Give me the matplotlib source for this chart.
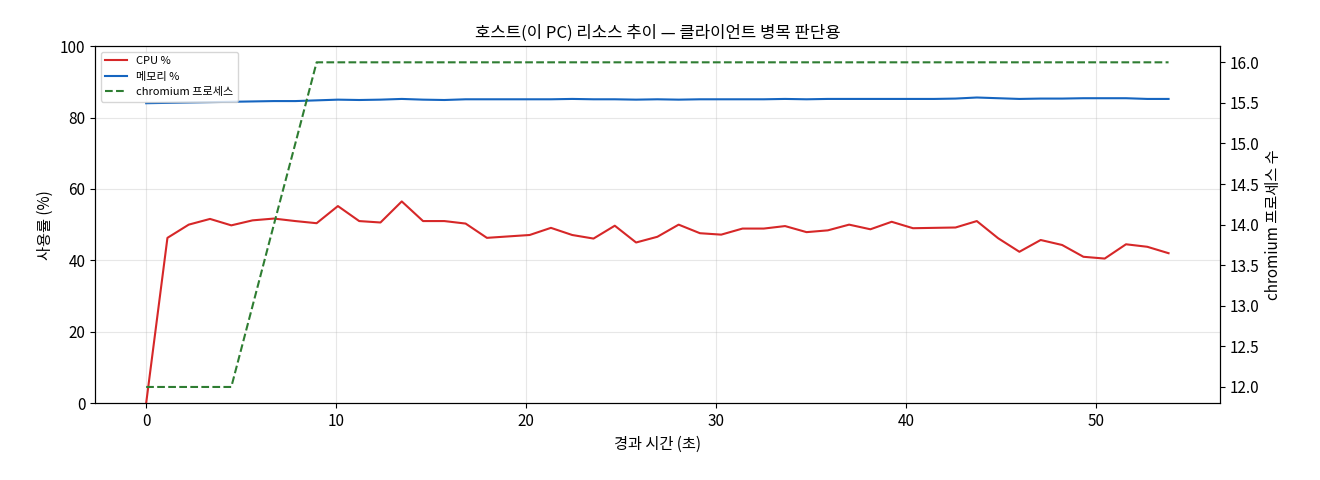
import matplotlib
matplotlib.use("Agg")
import matplotlib.pyplot as plt
import numpy as np

plt.rcParams['font.family'] = ['Noto Sans CJK KR', 'DejaVu Sans']

t = [round(i * 53.8 / 48, 2) for i in range(49)]
cpu = [0, 46.3, 50, 51.6, 49.8, 51.2, 51.7, 51, 50.4, 55.2, 51, 50.6, 56.5, 51, 51, 50.3,
       46.3, 46.7, 47.1, 49.1, 47.1, 46.1, 49.7, 45, 46.6, 50, 47.6, 47.2, 48.9, 48.9, 49.6,
       47.9, 48.4, 50, 48.7, 50.8, 49, 49.1, 49.2, 51, 46.2, 42.4, 45.7, 44.3, 41, 40.5,
       44.5, 43.8, 42]
mem = [84.0, 84.1, 84.2, 84.3, 84.4, 84.5, 84.6, 84.6, 84.8, 85.0, 84.9, 85.0, 85.2, 85.0, 84.9,
       85.1, 85.1, 85.1, 85.1, 85.1, 85.2, 85.1, 85.1, 85.0, 85.1, 85.0, 85.1, 85.1, 85.1, 85.1,
       85.2, 85.1, 85.2, 85.2, 85.2, 85.2, 85.2, 85.2, 85.3, 85.6, 85.4, 85.2, 85.3, 85.3, 85.4,
       85.4, 85.4, 85.2, 85.2]
procs = [12, 12, 12, 12, 12, 13, 14, 15, 16] + [16] * 40

fig, ax = plt.subplots(figsize=(13.2, 4.8), dpi=100)
l1, = ax.plot(t, cpu, color='#d62728', lw=1.5, label='CPU %')
l2, = ax.plot(t, mem, color='#1565c0', lw=1.5, label='메모리 %')
ax.set_ylim(0, 100)
ax.set_xlabel('경과 시간 (초)', fontsize=11)
ax.set_ylabel('사용률 (%)', fontsize=11)
ax.tick_params(labelsize=11)
ax.grid(True, alpha=0.3)
ax.set_title('호스트(이 PC) 리소스 추이 — 클라이언트 병목 판단용', fontsize=12)
ax2 = ax.twinx()
l3, = ax2.plot(t, procs, color='#2e7d32', lw=1.5, ls='--', label='chromium 프로세스')
ax2.set_ylabel('chromium 프로세스 수', fontsize=11)
ax2.tick_params(labelsize=11)
ax.legend(handles=[l1, l2, l3], loc='upper left', fontsize=8)
fig.subplots_adjust(left=0.072, right=0.924, top=0.904, bottom=0.16)
fig.savefig('out.png')
